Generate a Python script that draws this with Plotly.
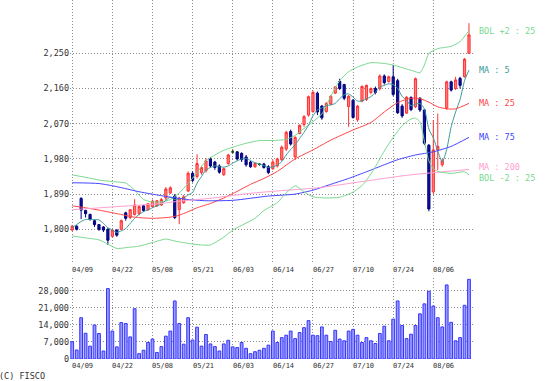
import plotly.graph_objects as go

# ---------------- data ----------------
dates = ["04/09","04/10","04/11","04/12","04/15","04/16","04/17","04/18","04/19","04/22",
         "04/23","04/24","04/25","04/26","04/30","05/01","05/02","05/07","05/08","05/09",
         "05/10","05/13","05/14","05/15","05/16","05/17","05/20","05/21","05/22","05/23",
         "05/24","05/27","05/28","05/29","05/30","05/31","06/03","06/04","06/05","06/06",
         "06/07","06/10","06/11","06/12","06/13","06/14","06/17","06/18","06/19","06/20",
         "06/21","06/24","06/25","06/26","06/27","06/28","07/01","07/02","07/03","07/04",
         "07/05","07/08","07/09","07/10","07/11","07/12","07/16","07/17","07/18","07/19",
         "07/22","07/23","07/24","07/25","07/26","07/29","07/30","07/31","08/01","08/02",
         "08/05","08/06","08/07","08/08","08/09","08/13","08/14","08/15","08/16","08/19"]

opens = [1798,1808,1879,1848,1838,1822,1812,1806,1800,1782,
         1798,1800,1842,1830,1838,1840,1860,1850,1858,1860,
         1862,1880,1893,1885,1850,1868,1898,1943,1935,1945,
         1950,1980,1972,1962,1940,1968,1998,1998,1994,1985,
         1972,1960,1966,1967,1960,1955,1962,1978,2005,2050,
         1985,2045,2068,2092,2101,2148,2115,2101,2120,2148,
         2178,2170,2114,2130,2080,2128,2132,2150,2160,2160,
         2192,2178,2190,2180,2115,2097,2137,2113,2135,2105,
         2015,1896,2003,1965,2110,2177,2160,2186,2190,2250]
highs = [1811,1810,1882,1850,1840,1825,1813,1808,1803,1800,
         1800,1825,1845,1852,1877,1862,1862,1867,1876,1875,
         1880,1908,1910,1890,1883,1888,1948,1948,1992,1962,
         1982,1985,1975,1966,1958,1993,2004,2000,1997,1990,
         1975,1971,1969,1970,1964,1978,1983,2014,2052,2055,
         2038,2068,2092,2142,2155,2152,2118,2125,2143,2166,
         2185,2172,2143,2133,2118,2168,2170,2163,2165,2196,
         2196,2193,2220,2185,2120,2140,2140,2188,2138,2108,
         2018,2079,2096,1980,2180,2180,2190,2190,2238,2327]
lows = [1795,1797,1826,1830,1822,1806,1796,1793,1760,1779,
        1781,1798,1822,1826,1835,1836,1845,1847,1855,1857,
        1860,1875,1890,1826,1813,1865,1895,1920,1930,1940,
        1945,1958,1952,1942,1936,1965,1994,1976,1972,1960,
        1957,1957,1963,1955,1941,1952,1958,1975,2000,2014,
        1977,2043,2062,2088,2098,2092,2080,2098,2117,2146,
        2156,2130,2062,2083,2075,2125,2128,2145,2145,2155,
        2170,2175,2140,2095,2085,2095,2102,2110,2100,2015,
        1846,1890,1951,1960,2105,2152,2156,2160,2188,2248]
closes = [1808,1800,1849,1840,1826,1812,1800,1798,1772,1798,
          1785,1822,1828,1850,1862,1858,1848,1865,1872,1873,
          1876,1903,1906,1830,1880,1883,1943,1925,1968,1958,
          1975,1962,1958,1946,1955,1990,1998,1980,1978,1965,
          1960,1968,1966,1958,1945,1972,1980,2010,2048,2018,
          2035,2066,2088,2139,2150,2100,2085,2122,2140,2164,
          2160,2135,2140,2086,2115,2165,2168,2160,2150,2192,
          2175,2190,2145,2098,2090,2138,2106,2185,2105,2020,
          1852,2003,2012,1975,2177,2156,2182,2168,2235,2297]
volume = [7100,3700,17000,10600,5300,14000,10500,3300,29000,11500,
          5000,15000,14600,9100,20700,2200,3600,6800,8200,2700,
          5100,9400,11500,23900,14600,6100,17000,7800,13100,5300,
          10100,6200,5100,3300,6200,7700,5000,4700,6800,4400,
          2200,3000,3600,4400,5700,11500,6800,8800,9800,11500,
          8400,10900,12900,15800,9800,9600,13200,9800,7200,11800,
          8200,7500,11500,12200,9800,6800,8800,7500,6400,10500,
          13500,7500,16400,23900,13800,8400,10200,13800,18600,22700,
          27900,21800,17000,13200,30500,15100,7500,8800,22100,32800]

ma5 = [1805,1812,1820,1825,1825,1825,1824,1815,1804,1798,
       1792,1796,1802,1815,1828,1838,1845,1850,1855,1860,
       1865,1874,1882,1876,1878,1880,1888,1894,1918,1935,
       1952,1958,1962,1960,1959,1962,1969,1975,1980,1981,
       1976,1970,1967,1963,1958,1960,1964,1973,1990,2004,
       2016,2032,2048,2066,2090,2105,2110,2116,2118,2122,
       2134,2144,2146,2138,2128,2128,2134,2139,2150,2164,
       2168,2172,2170,2160,2140,2130,2116,2120,2122,2108,
       2056,2034,2000,1972,2004,2062,2100,2132,2180,2207]

ma25_i = [0,3,6,10,14,18,22,24,26,28,31,34,37,40,43,46,50,54,58,63,67,70,73,76,78,80,82,84,86,89]
ma25_v = [1860,1855,1849,1840,1831,1828,1831,1836,1845,1855,1866,1880,1897,1915,1930,1948,1980,2003,
          2028,2054,2073,2100,2124,2135,2134,2125,2113,2108,2108,2122]

ma75_i = [0,6,10,15,21,26,30,36,44,50,54,58,62,66,70,73,77,81,85,89]
ma75_v = [1919,1917,1909,1896,1884,1876,1873,1874,1885,1890,1900,1915,1930,1947,1965,1978,1990,1998,2012,2035]

ma200_i = [0,10,20,24,30,40,46,55,65,75,85,89]
ma200_v = [1850,1858,1866,1872,1878,1892,1898,1906,1922,1938,1949,1953]

bolu_i = [0,3,6,9,12,14,16,18,20,22,24,26,28,30,32,34,36,39,42,45,48,50,52,54,56,58,60,62,64,67,70,72,
          75,77,78,79,80,82,85,87,89]
bolu_v = [1939,1933,1926,1922,1918,1900,1876,1870,1870,1876,1893,1917,1945,1975,1990,2002,2010,2020,2027,
          2027,2030,2040,2058,2075,2095,2140,2180,2203,2215,2226,2224,2220,2210,2203,2200,2220,2250,2262,
          2268,2280,2308]

boll_i = [0,3,6,8,10,12,15,18,21,23,26,29,31,34,36,38,41,43,46,48,50,52,54,57,60,63,65,66,68,70,72,74,
          76,77,78,79,80,81,82,85,88,89]
boll_v = [1783,1778,1773,1762,1751,1753,1757,1766,1775,1770,1764,1760,1760,1780,1798,1810,1828,1848,1868,
          1893,1911,1896,1883,1880,1882,1895,1912,1925,1960,2000,2035,2065,2082,2084,2075,2025,1975,1955,
          1948,1943,1947,1939]

price_ticks = [1800, 1890, 1980, 2070, 2160, 2250]
vol_ticks = [0, 7000, 14000, 21000, 28000]
label_step = 9

# ---------------- figure ----------------
n = len(closes)
xs = list(range(n))
FONT = "DejaVu Sans Mono"
GRID = "#8c8c8c"
DOTS = "1px,2px"

fig = go.Figure()

fig.add_trace(go.Candlestick(
    x=xs, open=opens, high=highs, low=lows, close=closes,
    increasing=dict(line=dict(color="#ff3030", width=1), fillcolor="#ff8080"),
    decreasing=dict(line=dict(color="#000080", width=1), fillcolor="#101090"),
    whiskerwidth=0, xaxis="x", yaxis="y", showlegend=False, hoverinfo="skip"))

doji = [i for i in xs if opens[i] == closes[i]]
fig.add_trace(go.Candlestick(
    x=doji, open=[opens[i] for i in doji], high=[highs[i] for i in doji],
    low=[lows[i] for i in doji], close=[closes[i] for i in doji],
    increasing=dict(line=dict(color="#006600", width=1), fillcolor="#006600"),
    decreasing=dict(line=dict(color="#006600", width=1), fillcolor="#006600"),
    whiskerwidth=0, xaxis="x", yaxis="y", showlegend=False, hoverinfo="skip"))

lines = [
    (bolu_i, bolu_v, "#7ad890", "BOL +2 : 25", 0),
    (xs, ma5, "#3a9a9a", "MA : 5", 0),
    (ma25_i, ma25_v, "#ff4545", "MA : 25", 0),
    (ma75_i, ma75_v, "#4545ff", "MA : 75", 0),
    (ma200_i, ma200_v, "#ff9fd0", "MA : 200", 2),
    (boll_i, boll_v, "#7ad890", "BOL -2 : 25", -3),
]
annotations = []
for lx, ly, col, name, dy in lines:
    fig.add_trace(go.Scatter(x=lx, y=ly, mode="lines", line=dict(color=col, width=1, shape="spline", smoothing=0.6),
                             xaxis="x", yaxis="y", showlegend=False, hoverinfo="skip"))
    annotations.append(dict(x=lx[-1], y=ly[-1], xref="x", yref="y", text=name, showarrow=False,
                            xanchor="left", yanchor="middle", xshift=9, yshift=dy, borderpad=0,
                            font=dict(family=FONT, size=8.5, color=col)))

fig.add_trace(go.Bar(x=xs, y=volume, width=0.62, marker=dict(color="#9a9aff", line=dict(color="#3535ff", width=1)),
                     xaxis="x2", yaxis="y2", showlegend=False, hoverinfo="skip"))

for i in range(0, n, label_step):
    for yr in ("y domain", "y2 domain"):
        annotations.append(dict(x=i, y=0, xref="x", yref=yr, text=dates[i], showarrow=False,
                                xanchor="left", yanchor="top", xshift=-2, yshift=-1,
                                font=dict(family=FONT, size=7, color="#333333")))

annotations.append(dict(x=0, y=0, xref="paper", yref="paper", text="(C) FISCO", showarrow=False,
                        xanchor="left", yanchor="middle", xshift=-72, yshift=-17, borderpad=0,
                        font=dict(family=FONT, size=8.5, color="#333333")))

xcommon = dict(range=[-0.5, 89.9], tickvals=list(range(0, n, label_step)), showticklabels=False,
               showgrid=True, gridcolor=GRID, griddash=DOTS, gridwidth=1, zeroline=False, showline=False,
               ticks="", fixedrange=True)

fig.update_layout(
    width=556, height=381,
    margin=dict(l=70, r=83, t=0, b=22, autoexpand=False),
    paper_bgcolor="white", plot_bgcolor="white",
    font=dict(family=FONT, size=8.5, color="#333333"),
    xaxis=dict(domain=[0, 1], anchor="y", rangeslider=dict(visible=False), **xcommon),
    xaxis2=dict(domain=[0, 1], anchor="y2", **xcommon),
    yaxis=dict(domain=[0.2674, 1], range=[1713.8, 2386.3], tickvals=price_ticks, tickformat=",",
               showgrid=True, gridcolor=GRID, griddash=DOTS, zeroline=False, showline=False, ticks="",
               tickfont=dict(family=FONT, size=8.5, color="#333333"), fixedrange=True),
    yaxis2=dict(domain=[0, 0.2256], range=[0, 33350], tickvals=vol_ticks, tickformat=",",
                showgrid=True, gridcolor=GRID, griddash=DOTS, zeroline=False, showline=False, ticks="",
                tickfont=dict(family=FONT, size=8.5, color="#333333"), fixedrange=True),
    boxgap=0.3,
    annotations=annotations,
    bargap=0.3,
)

fig.write_html("out.html", config={"displayModeBar": False},
               post_script="document.body.style.margin='0';")
